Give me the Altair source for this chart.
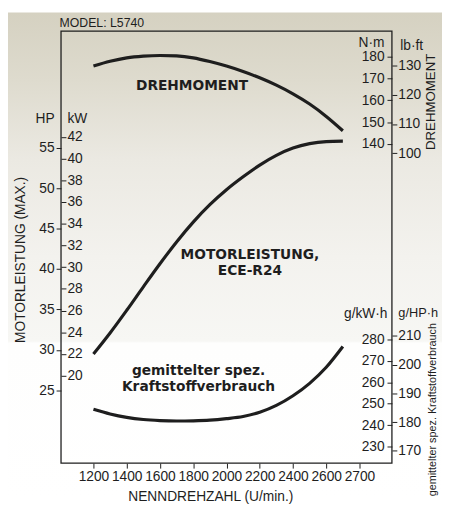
import altair as alt
import pandas as pd

# ---------------- data ----------------
rpm = [1200, 1300, 1400, 1500, 1600, 1700, 1800, 1900, 2000, 2100, 2200, 2300, 2400, 2500, 2600, 2700]
power_hp = [29.5, 32.1, 34.9, 37.8, 40.65, 43.35, 45.8, 47.95, 49.8, 51.4, 52.85, 54.05, 54.95, 55.5, 55.75, 55.8]
torque_nm = [175.8, 178.0, 179.6, 180.4, 180.7, 180.5, 179.6, 177.9, 175.8, 173.3, 170.4, 167.0, 163.0, 158.3, 152.6, 146.0]
fuel_gkwh = [247.4, 245.2, 243.6, 242.6, 242.1, 241.9, 242.0, 242.3, 243.0, 244.0, 246.0, 249.2, 253.7, 259.5, 267.0, 276.7]

rpm_ticks = [1200, 1400, 1600, 1800, 2000, 2200, 2400, 2600, 2800]
rpm_tick_labels = ["1200", "1400", "1600", "1800", "2000", "2200", "2400", "2600", "2700"]
hp_ticks = [25, 30, 35, 40, 45, 50, 55]
kw_ticks = [20, 22, 24, 26, 28, 30, 32, 34, 36, 38, 40, 42]
nm_ticks = [140, 150, 160, 170, 180]
lbft_ticks = [100, 110, 120, 130]
gkwh_ticks = [230, 240, 250, 260, 270, 280]
ghph_ticks = [170, 180, 190, 200, 210]

HP_PER_KW = 1.341
NM_PER_LBFT = 1.3558

# annotation anchor points (data units)
torque_label_rpm, torque_label_nm = [1793], [166.7]
power_label_rpm, power_label_hp = [2141], [41.7]
fuel_label_rpm, fuel_label_g = [1832], [265.3]

df = pd.DataFrame({
    "rpm": rpm,
    "hp": power_hp,
    "kw": [v / HP_PER_KW for v in power_hp],
    "nm": torque_nm,
    "lbft": [v / NM_PER_LBFT for v in torque_nm],
    "gkwh": fuel_gkwh,
    "ghph": [v / HP_PER_KW for v in fuel_gkwh],
})

W, H = 337, 440
PAD = {"left": 54, "top": 19, "right": 51, "bottom": 39}
FONT = "Liberation Sans"
INK = "#1e1e1e"

hp_dom = [16.0, 69.4]
kw_dom = [v / HP_PER_KW for v in hp_dom]
nm_dom = [-7.2, 191.9]
lbft_dom = [v / NM_PER_LBFT for v in nm_dom]
g_dom = [222.2, 424.0]
ghph_dom = [v / HP_PER_KW for v in g_dom]

labels_js = "[" + ",".join(f"'{s}'" for s in rpm_tick_labels) + "]"
vals_js = "[" + ",".join(str(v) for v in rpm_ticks) + "]"

x_enc = alt.X(
    "rpm:Q",
    scale=alt.Scale(domain=[1005, 2995], nice=False, zero=False),
    axis=alt.Axis(
        values=rpm_ticks,
        labelExpr=f"{labels_js}[indexof({vals_js}, datum.value)]",
        title="NENNDREHZAHL (U/min.)",
        titleX=152, titleY=34, titleAlign="center", titleBaseline="middle",
        tickSize=5, labelPadding=2, domain=False, grid=False,
        labelFlush=False, labelOverlap=False, zindex=2,
    ),
)


def yaxis(orient, values, title, tx, ty, align, offset=None, pad=2, tsize=14):
    kw = dict(
        orient=orient, values=values, title=title, titleAngle=0,
        titleX=tx, titleY=ty, titleAlign=align, titleBaseline="middle",
        tickSize=5, labelPadding=pad, domain=False, grid=False,
        labelOverlap=False, labelFlush=False, zindex=2, titleFontSize=tsize,
    )
    if offset is not None:
        kw["offset"] = offset
    return alt.Axis(**kw)


def sc(dom):
    return alt.Scale(domain=dom, nice=False, zero=False)


base = alt.Chart(df)
line_style = dict(color=INK, strokeWidth=3.2, interpolate="monotone")

power = base.mark_line(**line_style).encode(
    x=x_enc,
    y=alt.Y("hp:Q", scale=sc(hp_dom), axis=yaxis("left", hp_ticks, "HP", -7, 89, "right", pad=2)),
)
power_kw = base.mark_line(opacity=0).encode(
    x=x_enc,
    y=alt.Y("kw:Q", scale=sc(kw_dom), axis=yaxis("right", kw_ticks, "kW", 6, 89, "left", offset=-W, pad=1)),
)
torque = base.mark_line(**line_style).encode(
    x=x_enc,
    y=alt.Y("nm:Q", scale=sc(nm_dom), axis=yaxis("left", nm_ticks, "N·m", -8, 12, "right", offset=-W, pad=3)),
)
torque_lb = base.mark_line(opacity=0).encode(
    x=x_enc,
    y=alt.Y("lbft:Q", scale=sc(lbft_dom), axis=yaxis("right", lbft_ticks, "lb·ft", 8, 15, "left", pad=1)),
)
fuel = base.mark_line(**line_style).encode(
    x=x_enc,
    y=alt.Y("gkwh:Q", scale=sc(g_dom), axis=yaxis("left", gkwh_ticks, "g/kW·h", -5, 288, "right", offset=-W, pad=3)),
)
fuel_hp = base.mark_line(opacity=0).encode(
    x=x_enc,
    y=alt.Y("ghph:Q", scale=sc(ghph_dom), axis=yaxis("right", ghph_ticks, "g/HP·h", 6, 287, "left", pad=1, tsize=13)),
)

ann_style = dict(font="DejaVu Sans", fontWeight="bold", fontSize=14, color=INK,
                 align="center", baseline="middle", lineBreak="\n", lineHeight=16)

t_torque = alt.Chart(pd.DataFrame({"rpm": torque_label_rpm, "nm": torque_label_nm, "t": ["DREHMOMENT"]})).mark_text(**ann_style).encode(
    x=x_enc, y=alt.Y("nm:Q", scale=sc(nm_dom), axis=None), text="t:N")
t_power = alt.Chart(pd.DataFrame({"rpm": power_label_rpm, "hp": power_label_hp, "t": ["MOTORLEISTUNG,\nECE-R24"]})).mark_text(**ann_style).encode(
    x=x_enc, y=alt.Y("hp:Q", scale=sc(hp_dom), axis=None), text="t:N")
t_fuel = alt.Chart(pd.DataFrame({"rpm": fuel_label_rpm, "g": fuel_label_g, "t": ["gemittelter spez.\nKraftstoffverbrauch"]})).mark_text(**ann_style).encode(
    x=x_enc, y=alt.Y("g:Q", scale=sc(g_dom), axis=None), text="t:N")

one = alt.Chart(pd.DataFrame({"a": [0]}))


def free_text(txt, x, y, size, angle=0, align="center"):
    kw = dict(font=FONT, fontSize=size, color=INK, align=align, baseline="middle", text=txt)
    if angle:
        kw["angle"] = angle
    return one.mark_text(**kw).encode(x=alt.value(x), y=alt.value(y))


side_left = free_text("MOTORLEISTUNG (MAX.)", -40.5, 233, 14, angle=270)
side_right = free_text("DREHMOMENT", 377, 72, 13.5, angle=270)
side_fuel = free_text("gemittelter spez. Kraftstoffverbrauch", 378.5, 385.5, 11, angle=270)
model = free_text("MODEL: L5740", -1.5, -8.7, 12.5, align="left")

bg_grad = alt.Gradient(
    gradient="linear", x1=0, x2=0, y1=0, y2=1,
    stops=[
        alt.GradientStop(color="#d5d1c1", offset=0.0),
        alt.GradientStop(color="#dedbce", offset=0.14),
        alt.GradientStop(color="#ebe9e2", offset=0.3),
        alt.GradientStop(color="#f3f2ee", offset=0.5),
        alt.GradientStop(color="#f7f7f4", offset=0.672),
        alt.GradientStop(color="#fefefd", offset=0.676),
        alt.GradientStop(color="#ffffff", offset=1.0),
    ],
)
background = one.mark_rect(color=bg_grad).encode(
    x=alt.value(-PAD["left"]), x2=alt.value(W + PAD["right"]),
    y=alt.value(-PAD["top"]), y2=alt.value(H + PAD["bottom"]),
)
frame = one.mark_rect(filled=False, stroke=INK, strokeWidth=1.3).encode(
    x=alt.value(0), x2=alt.value(W), y=alt.value(0), y2=alt.value(H),
)

chart = alt.layer(
    background, frame, power, power_kw, torque, torque_lb, fuel, fuel_hp,
    t_torque, t_power, t_fuel, side_left, side_right, side_fuel, model,
).resolve_scale(y="independent").properties(
    width=W, height=H,
    autosize=alt.AutoSizeParams(type="none"),
    padding=PAD,
).configure_view(
    stroke=None,
).configure_axis(
    labelFont=FONT, labelFontSize=14, labelColor=INK,
    titleFont=FONT, titleFontSize=14, titleFontWeight="normal", titleColor=INK,
    tickColor=INK, tickWidth=1,
)

chart.save("out.html", embed_options={"renderer": "svg", "actions": False})
